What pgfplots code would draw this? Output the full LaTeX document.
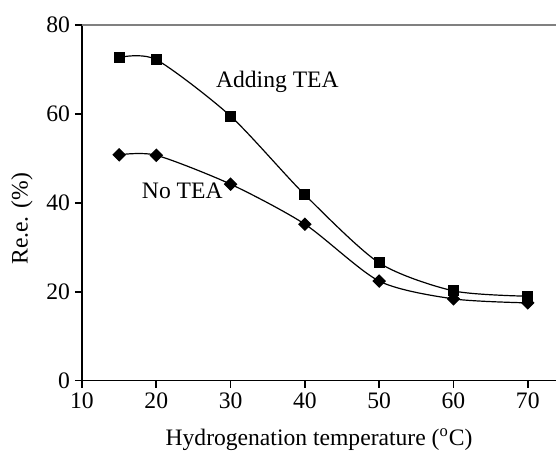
\documentclass[border=0pt]{standalone}
\usepackage{fontspec}
\setmainfont{Liberation Serif}
\usepackage{pgfplots}
\pgfplotsset{compat=1.18}
\usetikzlibrary{calc}

\begin{document}
\begin{tikzpicture}
\begin{axis}[
  name=ax,
  scale only axis,
  width=237pt, height=177.85pt,
  xmin=10, xmax=73.8,
  ymin=0, ymax=80,
  xtick={10,20,...,70},
  ytick={0,20,...,80},
  axis x line*=bottom,
  axis y line*=left,
  axis line style={-, line width=0.8pt, black},
  tick style={line width=0.8pt, black},
  tick align=outside,
  major tick length=3.5pt,
  /pgf/number format/assume math mode=true,
  ticklabel style={font=\fontsize{11.8}{14}\selectfont},
  yticklabel style={xshift=1pt},
  xticklabel style={yshift=1pt},
  xlabel={Hydrogenation temperature (\textsuperscript{o}C)},
  label style={font=\fontsize{11.8}{14}\selectfont},
  xlabel style={at={(axis description cs:0.5,-0.166)}, anchor=center},
  clip=false,
]
\draw[gray, line width=0.8pt] (rel axis cs:0,1) -- (rel axis cs:1,1);
% Adding TEA
\addplot[black, line width=0.6pt, smooth, tension=0.45,
  mark=square*, mark size=2.5pt, mark options={solid}] coordinates {
  (15,72.7) (20,72.2) (30,59.5) (40,41.8) (50,26.5) (60,20.2) (70,19.0)
};
% No TEA
\addplot[black, line width=0.6pt, smooth, tension=0.45,
  mark=square*, mark size=2.1pt, mark options={solid, rotate=45}] coordinates {
  (15,50.8) (20,50.7) (30,44.2) (40,35.2) (50,22.4) (60,18.4) (70,17.5)
};
\node[font=\fontsize{11.8}{14}\selectfont] at (axis cs:36.3,67.2) {Adding TEA};
\node[font=\fontsize{11.8}{14}\selectfont] at (axis cs:23.5,42.6) {No TEA};
\node[font=\fontsize{11.8}{14}\selectfont, rotate=90] at (axis description cs:-0.1266,0.455) {Re.e. (\%)};
\end{axis}
\pgfresetboundingbox
\path ($(ax.south west)+(-41pt,-39.15pt)$) rectangle ($(ax.north east)+(0pt,12.5pt)$);
\end{tikzpicture}
\end{document}
